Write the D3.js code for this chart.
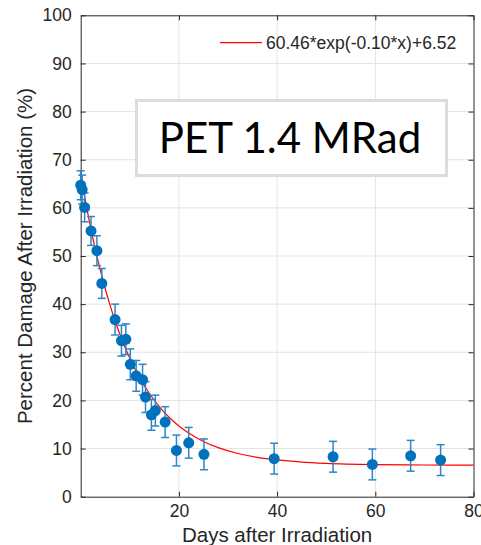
<!DOCTYPE html>
<html>
<head>
<meta charset="utf-8">
<script src="https://cdn.jsdelivr.net/npm/d3@7"></script>
<style>
  body { margin: 0; background: #fff; }
  svg { display: block; font-family: "Liberation Sans", Arial, sans-serif; }
</style>
</head>
<body>
<script>
// measured days and damage values
var days = [0, 0.3, 0.8, 2.1, 3.3, 4.3, 7.0, 8.3, 9.2, 10.1, 11.3, 12.6, 13.2, 14.4, 15.2, 17.2, 19.5, 22.0, 25.1, 39.4, 51.4, 59.4, 67.2, 73.3];
var damage = [64.7, 63.8, 60.1, 55.2, 51.1, 44.3, 36.8, 32.4, 32.7, 27.5, 25.1, 24.3, 20.7, 17.0, 17.9, 15.5, 9.6, 11.2, 8.8, 7.9, 8.3, 6.7, 8.5, 7.6];
var errs = [3.0, 3.0, 3.0, 3.0, 3.1, 3.1, 3.2, 3.2, 3.2, 3.2, 3.2, 3.2, 3.2, 3.2, 3.2, 3.2, 3.2, 3.2, 3.2, 3.2, 3.2, 3.2, 3.2, 3.2];

// fitted curve
var fitDays = [0, 1, 2, 3, 4, 5, 6, 7, 8, 9, 10, 12, 14, 16, 18, 20, 22, 25, 28, 32, 36, 40, 45, 50, 60, 70, 80];
var fitVals = [66.98, 61.23, 56.02, 51.31, 47.05, 43.19, 39.70, 36.54, 33.69, 31.10, 28.76, 24.73, 21.43, 18.73, 16.51, 14.70, 13.22, 11.48, 10.20, 8.98, 8.17, 7.63, 7.19, 6.93, 6.67, 6.58, 6.54];

var xTicks = [20, 40, 60, 80];
var yTicks = [0, 10, 20, 30, 40, 50, 60, 70, 80, 90, 100];
var legendLabel = "60.46*exp(-0.10*x)+6.52";
var boxLabel = "PET 1.4 MRad";

var width = 481, height = 545;
var margin = { top: 15.3, right: 7.5, bottom: 48.3, left: 80.7 };
var w = width - margin.left - margin.right;
var h = height - margin.top - margin.bottom;

var svg = d3.select("body").append("svg")
    .attr("width", width)
    .attr("height", height);

var g = svg.append("g")
    .attr("transform", "translate(" + margin.left + "," + margin.top + ")");

var x = d3.scaleLinear().domain([0, 80]).range([0, w]);
var y = d3.scaleLinear().domain([0, 100]).range([h, 0]);

// grid
g.append("g").selectAll("line")
    .data(yTicks.filter(function (d) { return d > 0 && d < 100; }))
    .enter().append("line")
    .attr("x1", 0).attr("x2", w)
    .attr("y1", function (d) { return y(d); })
    .attr("y2", function (d) { return y(d); })
    .attr("stroke", "#e3e3e3").attr("stroke-width", 1);

g.append("g").selectAll("line")
    .data(xTicks.filter(function (d) { return d < 80; }))
    .enter().append("line")
    .attr("y1", 0).attr("y2", h)
    .attr("x1", function (d) { return x(d); })
    .attr("x2", function (d) { return x(d); })
    .attr("stroke", "#e3e3e3").attr("stroke-width", 1);

// axes (ticks point inward, matlab style)
var axisColor = "#262626";
var xAxis = g.append("g")
    .attr("transform", "translate(0," + h + ")")
    .call(d3.axisBottom(x).tickValues(xTicks).tickSizeInner(-5).tickSizeOuter(0).tickPadding(8));
var yAxis = g.append("g")
    .call(d3.axisLeft(y).tickValues(yTicks).tickSizeInner(-5).tickSizeOuter(0).tickPadding(9));
g.append("g")
    .call(d3.axisTop(x).tickValues(xTicks).tickSizeInner(-5).tickSizeOuter(0).tickFormat(""));
g.append("g")
    .attr("transform", "translate(" + w + ",0)")
    .call(d3.axisRight(y).tickValues(yTicks).tickSizeInner(-5).tickSizeOuter(0).tickFormat(""));

g.selectAll(".domain").attr("stroke", axisColor);
g.selectAll(".tick line").attr("stroke", axisColor);
g.selectAll(".tick text")
    .attr("fill", axisColor)
    .style("font-size", "17.5px")
    .style("font-family", "'Liberation Sans', Arial, sans-serif");

// fit line
var line = d3.line()
    .x(function (d, i) { return x(fitDays[i]); })
    .y(function (d) { return y(d); })
    .curve(d3.curveMonotoneX);

g.append("path")
    .datum(fitVals)
    .attr("d", line)
    .attr("fill", "none")
    .attr("stroke", "#ff0000")
    .attr("stroke-width", 1.2);

// error bars
var pts = days.map(function (d, i) { return { x: d, y: damage[i], e: errs[i] }; });
var errColor = "#2f86c6";
var capW = 4;
var eb = g.append("g").selectAll("g").data(pts).enter().append("g")
    .attr("stroke", errColor).attr("stroke-width", 1.5);
eb.append("line")
    .attr("x1", function (d) { return x(d.x); }).attr("x2", function (d) { return x(d.x); })
    .attr("y1", function (d) { return y(d.y - d.e); }).attr("y2", function (d) { return y(d.y + d.e); });
eb.append("line")
    .attr("x1", function (d) { return x(d.x) - capW; }).attr("x2", function (d) { return x(d.x) + capW; })
    .attr("y1", function (d) { return y(d.y + d.e); }).attr("y2", function (d) { return y(d.y + d.e); });
eb.append("line")
    .attr("x1", function (d) { return x(d.x) - capW; }).attr("x2", function (d) { return x(d.x) + capW; })
    .attr("y1", function (d) { return y(d.y - d.e); }).attr("y2", function (d) { return y(d.y - d.e); });

// markers
g.append("g").selectAll("circle").data(pts).enter().append("circle")
    .attr("cx", function (d) { return x(d.x); })
    .attr("cy", function (d) { return y(d.y); })
    .attr("r", 5.5)
    .attr("fill", "#0072bd");

// legend (no box)
g.append("line")
    .attr("x1", 220 - margin.left).attr("x2", 262 - margin.left)
    .attr("y1", 42.7 - margin.top).attr("y2", 42.7 - margin.top)
    .attr("stroke", "#ff0000").attr("stroke-width", 1.2);
g.append("text")
    .attr("x", 266 - margin.left)
    .attr("y", 42.7 - margin.top)
    .attr("dy", "0.35em")
    .attr("fill", axisColor)
    .style("font-size", "17.5px")
    .text(legendLabel);

// annotation box
svg.append("rect")
    .attr("x", 136.5).attr("y", 100.5)
    .attr("width", 310).attr("height", 75)
    .attr("fill", "#fff")
    .attr("stroke", "#dcdcdc").attr("stroke-width", 3);
svg.append("text")
    .attr("x", 290).attr("y", 153.3)
    .attr("text-anchor", "middle")
    .attr("fill", "#000")
    .style("font-family", "Lato, 'Open Sans', sans-serif")
    .style("font-size", "42px")
    .text(boxLabel);

// axis titles
svg.append("text")
    .attr("x", margin.left + w / 2)
    .attr("y", 541.5)
    .attr("text-anchor", "middle")
    .attr("fill", axisColor)
    .style("font-size", "20.5px")
    .text("Days after Irradiation");

svg.append("text")
    .attr("transform", "translate(32," + (margin.top + h / 2) + ") rotate(-90)")
    .attr("text-anchor", "middle")
    .attr("fill", axisColor)
    .style("font-size", "20.5px")
    .text("Percent Damage After Irradiation (%)");
</script>
</body>
</html>
